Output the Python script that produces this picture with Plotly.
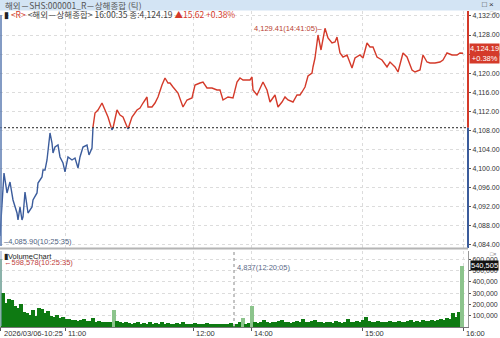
import plotly.graph_objects as go

# ---------------- data ----------------
title_text = "해외－SHS:000001_R－상해종합 (틱)"
name_text = "<해외－상해종합>"
last_time = "16:00:35"
prev_close = 4108.57
last_price = 4124.19
change = 15.62
change_pct = 0.38

# tick sequence number (tick chart x) and price
tick_seq = [0, 4, 7, 10, 13, 17, 18, 20, 22, 23,
            25, 28, 32, 33, 37, 38, 42, 43, 45, 47,
            50, 52, 53, 55, 58, 60, 63, 65, 68, 72,
            75, 78, 80, 83, 87, 89, 92, 93, 95, 98,
            102, 105, 108, 112, 113, 117, 120, 123, 128, 132,
            137, 140, 143, 147, 148, 152, 155, 158, 162, 165,
            168, 170, 173, 178, 183, 187, 192, 195, 200, 203,
            207, 212, 217, 220, 223, 228, 233, 237, 240, 243,
            247, 250, 252, 253, 257, 260, 263, 267, 270, 275,
            278, 282, 285, 288, 293, 297, 300, 302, 303, 305,
            308, 312, 313, 315, 318, 321, 325, 328, 332, 335,
            337, 340, 343, 347, 352, 355, 360, 363, 367, 370,
            373, 377, 382, 387, 390, 395, 398, 403, 407, 412,
            415, 420, 423, 427, 430, 435, 440, 443, 447, 452,
            457, 460, 463]
price = [4085.90, 4099.09, 4094.90, 4097.20, 4093.43, 4090.70, 4089.24, 4091.96, 4089.24, 4089.87,
         4095.10, 4090.70, 4091.96, 4093.43, 4094.90, 4096.99, 4098.25, 4099.71, 4099.71, 4101.81,
         4107.47, 4105.37, 4103.28, 4104.53, 4104.95, 4102.44, 4101.18, 4099.30, 4102.44, 4101.81,
         4102.23, 4100.13, 4102.44, 4104.53, 4104.95, 4102.86, 4104.32, 4108.72, 4111.66, 4112.29,
         4113.75, 4112.29, 4110.82, 4108.10, 4108.51, 4112.29, 4111.24, 4110.82, 4108.30, 4110.82,
         4112.29, 4112.70, 4113.75, 4115.01, 4112.91, 4112.91, 4113.75, 4115.01, 4117.52, 4118.99,
         4117.94, 4117.94, 4117.10, 4115.85, 4112.91, 4114.38, 4114.80, 4117.52, 4117.94, 4118.15,
         4116.90, 4116.90, 4116.48, 4116.48, 4114.38, 4115.01, 4114.80, 4118.15, 4118.99, 4118.57,
         4118.57, 4118.57, 4119.20, 4116.48, 4115.43, 4116.90, 4118.15, 4116.48, 4113.96, 4115.43,
         4112.91, 4113.96, 4115.01, 4114.38, 4113.96, 4115.43, 4115.43, 4116.06, 4116.48, 4117.10,
         4119.41, 4120.04, 4121.30, 4123.18, 4128.00, 4124.86, 4129.41, 4127.37, 4126.32, 4126.53,
         4127.58, 4124.23, 4123.39, 4123.81, 4121.09, 4123.18, 4123.81, 4123.18, 4126.32, 4125.49,
         4125.49, 4123.39, 4122.76, 4121.30, 4122.34, 4121.30, 4120.25, 4124.23, 4123.39, 4120.67,
         4120.25, 4120.67, 4123.81, 4122.34, 4122.13, 4122.13, 4122.34, 4122.76, 4124.23, 4123.81,
         4123.81, 4124.23, 4124.19]
min_time = "10:25:35"
max_time = "14:41:05"

# volume (shares), one bar per group of ticks, first tick to last tick
volume = [598578, 300000, 210000, 250000, 240000, 190000, 170000, 200000, 130000, 120000,
          110000, 150000, 100000, 170000, 160000, 120000, 140000, 100000, 90000, 110000,
          80000, 85000, 70000, 75000, 60000, 65000, 55000, 60000, 70000, 50000,
          55000, 80000, 45000, 50000, 45000, 40000, 45000, 40000, 155000, 50000,
          40000, 35000, 40000, 35000, 30000, 35000, 40000, 30000, 35000, 30000,
          40000, 30000, 35000, 30000, 40000, 30000, 35000, 30000, 25000, 35000,
          30000, 40000, 30000, 25000, 30000, 35000, 30000, 25000, 30000, 35000,
          25000, 30000, 25000, 30000, 25000, 30000, 25000, 35000, 4837, 30000,
          40000, 80000, 30000, 35000, 185000, 40000, 35000, 45000, 60000, 40000,
          35000, 45000, 40000, 50000, 60000, 45000, 40000, 35000, 45000, 50000,
          45000, 75000, 45000, 40000, 50000, 60000, 45000, 40000, 35000, 45000,
          40000, 35000, 55000, 40000, 35000, 45000, 70000, 45000, 40000, 50000,
          45000, 65000, 90000, 50000, 45000, 40000, 50000, 45000, 40000, 45000,
          55000, 45000, 40000, 50000, 45000, 40000, 55000, 60000, 45000, 50000,
          45000, 60000, 55000, 50000, 65000, 55000, 60000, 70000, 65000, 80000,
          75000, 120000, 85000, 135000, 540505]
vol_max_time = "10:25:35"

time_tick = [0, 65, 193, 251, 362, 463]
time_labels = ["2026/03/06-10:25", "11:00", "12:00", "14:00", "15:00", "16:00"]

cursor_tick = 234
cursor_vol = 4837
cursor_time = "12:20:05"

assert len(tick_seq) == len(price)

# ---------------- geometry / style ----------------
W, H = 500, 338
M_L, M_R, M_T, M_B = 0, 32, 11, 11
PW = W - M_L - M_R
PH = H - M_T - M_B
X_RANGE = [0, PW]
P_RANGE = [4083.37, 4133.03]
V_RANGE = [0, 673000]
VOL_DOM = [0, 76 / PH]
PRC_DOM = [79 / PH, 1]

RED = "#d43a2a"
BLUE = "#3b5c9c"
GRID = "#dcdcdc"
FONT = "Liberation Sans, Noto Sans CJK KR, sans-serif"
KFONT = "Noto Sans CJK KR, Liberation Sans, sans-serif"


def py(p):  # pixel y -> paper y
    return (H - M_B - p) / PH


def px(p):  # pixel x -> paper x
    return (p - M_L) / PW


def split_level(xs, ys, lvl):
    ux, uy, dx, dy = [], [], [], []
    for i, (x, y) in enumerate(zip(xs, ys)):
        if i > 0:
            x0, y0 = xs[i - 1], ys[i - 1]
            if (y0 - lvl) * (y - lvl) < 0:
                xc = x0 + (lvl - y0) * (x - x0) / (y - y0)
                if y0 > lvl:
                    ux += [xc, None]; uy += [lvl, None]
                    dx.append(xc); dy.append(lvl)
                else:
                    dx += [xc, None]; dy += [lvl, None]
                    ux.append(xc); uy.append(lvl)
        if y >= lvl:
            ux.append(x); uy.append(y)
        else:
            dx.append(x); dy.append(y)
    return ux, uy, dx, dy


ux, uy, dx, dy = split_level(tick_seq, price, prev_close)

n = len(volume)
vol_tick = [tick_seq[0] + (tick_seq[-1] - 1 - tick_seq[0]) * i / (n - 1) for i in range(n)]
vol_colors = []
for i, v in enumerate(volume):
    nb = [volume[j] for j in (i - 1, i + 1) if 0 <= j < n]
    vol_colors.append("#8cc48c" if v > 1.8 * max(nb) else "#0e7a12")

fig = go.Figure()
fig.add_trace(go.Scatter(x=dx, y=dy, mode="lines", line=dict(color=BLUE, width=1.4),
                         xaxis="x2", yaxis="y", hoverinfo="skip", showlegend=False))
fig.add_trace(go.Scatter(x=ux, y=uy, mode="lines", line=dict(color=RED, width=1.4),
                         xaxis="x2", yaxis="y", hoverinfo="skip", showlegend=False))
fig.add_trace(go.Bar(x=vol_tick, y=volume, width=3.1, marker=dict(color=vol_colors, line=dict(width=0)),
                     xaxis="x", yaxis="y2", hoverinfo="skip", showlegend=False))

axis_common = dict(range=X_RANGE, showgrid=True, gridcolor=GRID, griddash="dot", gridwidth=1,
                   tickvals=time_tick, zeroline=False, showticklabels=False)

fig.update_layout(
    width=W, height=H, margin=dict(l=M_L, r=M_R, t=M_T, b=M_B, autoexpand=False),
    paper_bgcolor="white", plot_bgcolor="white", bargap=0,
    font=dict(family=FONT, size=8, color="#333"),
    xaxis=dict(**axis_common, anchor="y2", domain=[0, 1], ticks="outside", ticklen=3,
               tickcolor="#555", showline=True, linecolor="#777", linewidth=1),
    xaxis2=dict(**axis_common, anchor="y", domain=[0, 1], matches="x", ticks=""),
    yaxis=dict(domain=PRC_DOM, range=P_RANGE, side="right", anchor="x2", tick0=4084, dtick=4,
               tickformat=",.2f", ticks="outside", ticklen=2, tickcolor="#555",
               tickfont=dict(size=7, color="#333"), showgrid=True, gridcolor=GRID,
               griddash="dot", zeroline=False, showline=False),
    yaxis2=dict(domain=VOL_DOM, range=V_RANGE, side="right", anchor="x",
                tickvals=[100000 * k for k in range(1, 7)], tickformat=",d",
                ticks="outside", ticklen=2, tickcolor="#555",
                tickfont=dict(size=7, color="#333"), showgrid=True, gridcolor=GRID,
                griddash="dot", zeroline=False, showline=True, linecolor="#999"),
)

shapes = []
# title bar
shapes.append(dict(type="rect", xref="paper", yref="paper", x0=px(0), x1=px(W), y0=py(10.5), y1=py(0),
                   fillcolor="#d3e4f4", line=dict(width=0), layer="above"))
# previous close dashed line
shapes.append(dict(type="line", xref="paper", yref="y", x0=0, x1=1, y0=prev_close, y1=prev_close,
                   line=dict(color="#222", width=1, dash="2px,2px")))
# coloured price axis line
shapes.append(dict(type="line", xref="paper", yref="y", x0=1, x1=1, y0=prev_close, y1=P_RANGE[1],
                   line=dict(color=RED, width=2)))
shapes.append(dict(type="line", xref="paper", yref="y", x0=1, x1=1, y0=P_RANGE[0], y1=prev_close,
                   line=dict(color=BLUE, width=2)))
# left frame line
shapes.append(dict(type="line", xref="paper", yref="paper", x0=px(1), x1=px(1), y0=py(246), y1=py(15),
                   line=dict(color="#5a7ab0", width=1.5)))
shapes.append(dict(type="line", xref="paper", yref="paper", x0=px(1), x1=px(1), y0=py(326), y1=py(251),
                   line=dict(color="#8aa0c8", width=1)))
# panel separator
shapes.append(dict(type="line", xref="paper", yref="paper", x0=0, x1=1, y0=py(248.5), y1=py(248.5),
                   line=dict(color="#b4b4b4", width=2)))
# cursor line in volume panel
shapes.append(dict(type="line", xref="x", yref="y2 domain", x0=cursor_tick, x1=cursor_tick, y0=0, y1=1,
                   line=dict(color="#888", width=1, dash="dot")))
fig.update_layout(shapes=shapes)

ann = []
# title text
ann.append(dict(xref="paper", yref="paper", x=px(3), y=py(5), xanchor="left", yanchor="middle",
                text=title_text, showarrow=False, font=dict(family=KFONT, size=8.5, color="#555")))
ann.append(dict(xref="paper", yref="paper", x=px(496), y=py(5), xanchor="right", yanchor="middle",
                text="□ ×", showarrow=False, font=dict(size=8, color="#333")))
ann.append(dict(xref="paper", yref="paper", x=px(499), y=py(13), xanchor="right", yanchor="middle",
                text="□×", showarrow=False, font=dict(size=5.5, color="#777")))
ann.append(dict(xref="paper", yref="paper", x=px(499), y=py(253.5), xanchor="right", yanchor="middle",
                text="□×", showarrow=False, font=dict(size=5.5, color="#777")))
# legend line
legend_txt = (f"<span style='color:#222'>▮</span> <span style='color:{RED}'>&lt;R&gt;</span> "
              f"<span style='color:#444'>{name_text.replace('<', '&lt;').replace('>', '&gt;')} {last_time} 종:{last_price:,.2f}</span> "
              f"<span style='color:{RED}'>▲{change:.2f} +{change_pct:.2f}%</span>")
ann.append(dict(xref="paper", yref="paper", x=px(2), y=py(14.5), xanchor="left", yanchor="middle",
                text=legend_txt, showarrow=False, font=dict(family=KFONT, size=8.5)))
# last price box
ann.append(dict(xref="paper", yref="y", x=1, y=last_price, xanchor="left", yanchor="middle", xshift=1,
                text=f"{last_price:,.2f}<br>+{change_pct:.2f}%", showarrow=False, bgcolor=RED,
                borderpad=0, font=dict(size=7.5, color="white")))
# min / max price
i_min = price.index(min(price))
i_max = price.index(max(price))
ann.append(dict(xref="x2", yref="y", x=tick_seq[i_min], y=price[i_min], xanchor="left", yanchor="middle",
                yshift=-6, xshift=2, text=f"–{price[i_min]:,.2f}({min_time})", showarrow=False,
                font=dict(size=7.5, color="#4f5f80")))
ann.append(dict(xref="x2", yref="y", x=tick_seq[i_max], y=price[i_max], xanchor="right", yanchor="middle",
                xshift=-1, text=f"{price[i_max]:,.2f}({max_time})–", showarrow=False,
                font=dict(size=7.5, color="#b84030")))
# volume panel labels
ann.append(dict(xref="paper", yref="paper", x=px(2), y=py(256), xanchor="left", yanchor="middle",
                text="▮VolumeChart", showarrow=False, font=dict(size=7.5, color="#222")))
ann.append(dict(xref="paper", yref="paper", x=px(2), y=py(262.5), xanchor="left", yanchor="middle",
                text=f"←{max(volume):,d}({vol_max_time})", showarrow=False, font=dict(size=7.5, color="#c04040")))
ann.append(dict(xref="x", yref="paper", x=cursor_tick, y=py(267), xanchor="left", yanchor="middle", xshift=1,
                text=f"{cursor_vol:,d}({cursor_time})", showarrow=False, font=dict(size=7.5, color="#5a6a88")))
ann.append(dict(xref="paper", yref="y2", x=1, y=volume[-1], xanchor="left", yanchor="middle", xshift=2,
                text=f"{volume[-1]:,d}", showarrow=False, bgcolor="#111", borderpad=0,
                font=dict(size=7.5, color="white")))
# x tick labels (left aligned to their tick)
for t, lab in zip(time_tick, time_labels):
    ann.append(dict(xref="x", yref="paper", x=t, y=py(333), xanchor="left", yanchor="middle",
                    xshift=2 if t == time_tick[0] else 1, text=lab, showarrow=False,
                    font=dict(size=7.5, color="#333")))
fig.update_layout(annotations=ann)

fig.write_html("out.html")
